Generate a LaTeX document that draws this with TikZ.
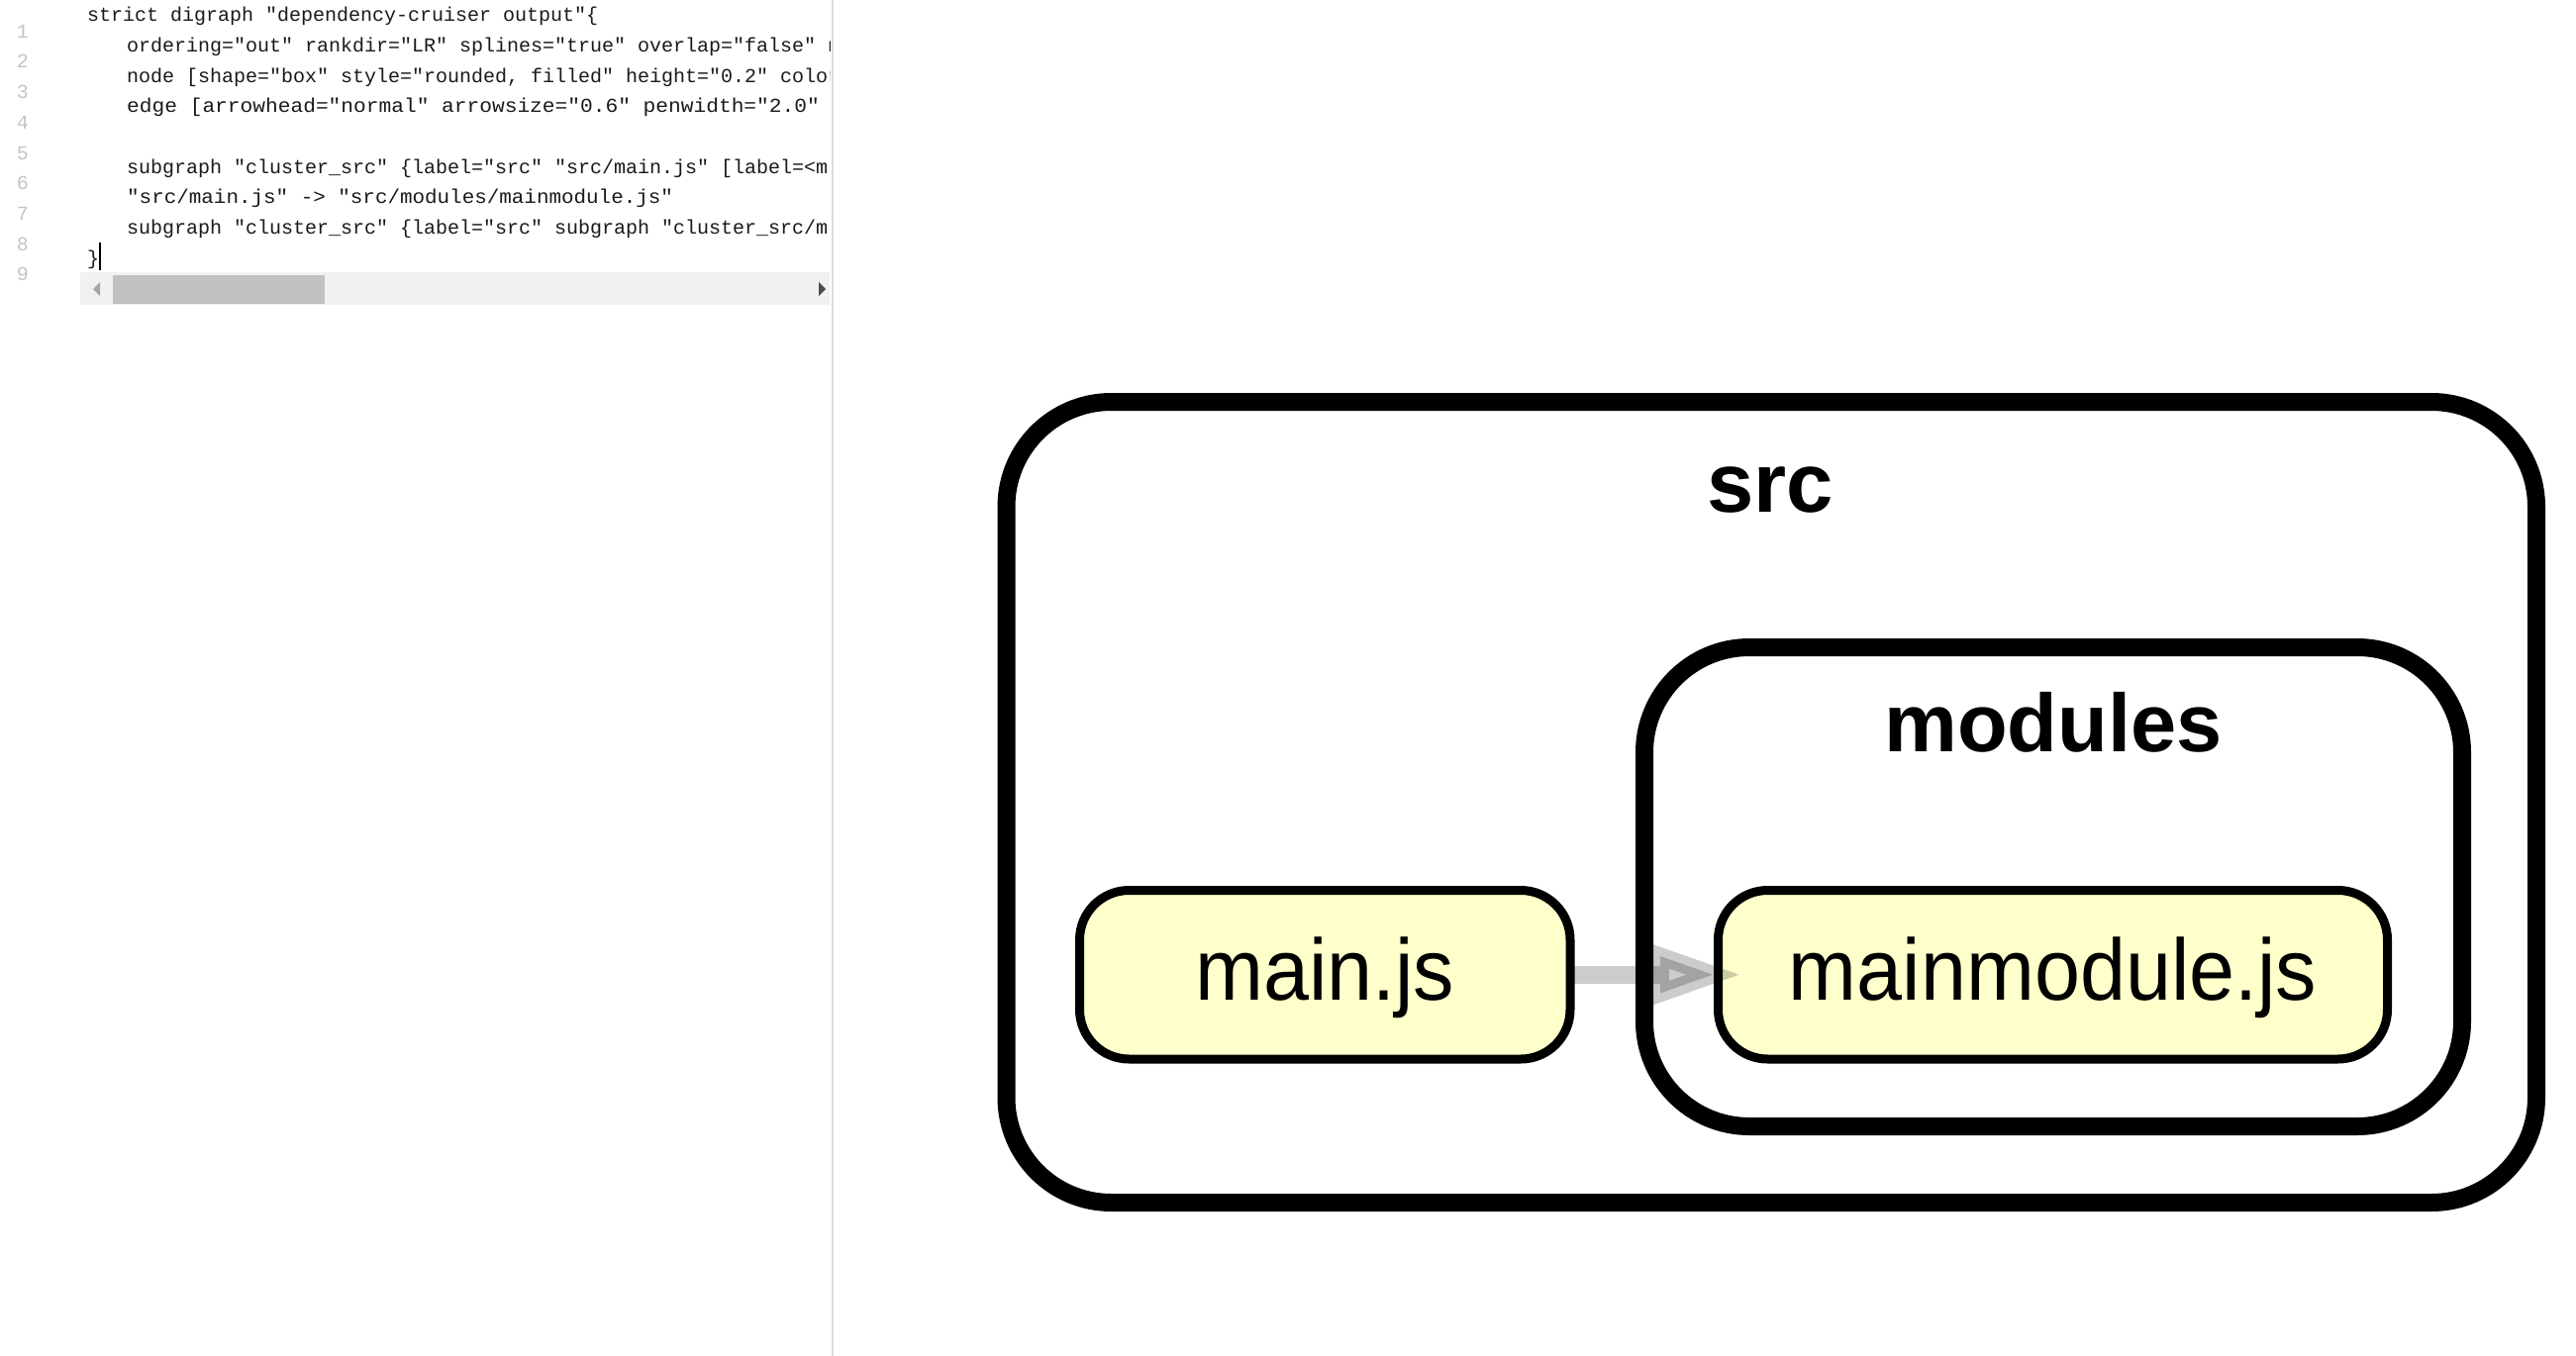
\documentclass[tikz,border=0pt]{standalone}
\usepackage{fontspec}
\setmainfont{Liberation Sans}
\newfontfamily\codefont[Ligatures=TeXOff]{Liberation Mono}
\newfontfamily\nodefont[FakeStretch=0.94]{Liberation Sans}
\definecolor{nodefill}{HTML}{FFFFCC}
\definecolor{codetext}{HTML}{1A1A1A}
\definecolor{linenum}{HTML}{C4C4C4}
\definecolor{divider}{HTML}{DDDDDD}
\definecolor{scrollbg}{HTML}{F1F1F1}
\definecolor{scrollthumb}{HTML}{C1C1C1}
\tikzset{
  cluster/.style={draw=black, line width=18pt, rounded corners=106pt, fill=white, inner sep=0pt, outer sep=0pt},
  clusterlabel/.style={anchor=base, inner sep=0pt, font=\bfseries\fontsize{85}{100}\selectfont},
  modnode/.style={draw=black, line width=9pt, fill=nodefill, rounded corners=50pt, inner sep=0pt, outer sep=0pt,
    minimum height=170.5pt, text height=62pt, text depth=11.5pt, font=\nodefont\fontsize{88}{100}\selectfont},
  edgeline/.style={draw=black, draw opacity=0.2, line width=17.7pt},
  edgehead/.style={draw=black, fill=black, draw opacity=0.2, fill opacity=0.2, line width=17.7pt, line join=miter, miter limit=10},
  codeline/.style={anchor=base west, inner sep=0pt, text=codetext, font=\codefont\fontsize{20}{24}\selectfont},
  numline/.style={anchor=base east, inner sep=0pt, text=linenum, font=\codefont\fontsize{20}{24}\selectfont}
}
\begin{document}
\begin{tikzpicture}[x=1pt, y=-1pt]
\useasboundingbox (0,0) rectangle (2602,1370);
\fill[white] (0,0) rectangle (2602,1370);

% ---------- editor panel ----------
\draw[divider, line width=2pt] (841,0) -- (841,1370);
\foreach \k in {1,...,9} {
  \node[numline] (num\k) at (29, {38.3 + 30.7*(\k-1)}) {\k};
}
\begin{scope}
\clip (0,0) rectangle (838,272);
\node[codeline] (c1) at (88, 21.7) {strict digraph "dependency-cruiser output"\{};
\node[codeline] (c2) at (128, 52.4) {ordering="out" rankdir="LR" splines="true" overlap="false" no};
\node[codeline] (c3) at (128, 83.1) {node [shape="box" style="rounded, filled" height="0.2" color};
\node[codeline] (c4) at (128, 113.8) {\scalebox{1.06}[1]{edge [arrowhead="normal" arrowsize="0.6" penwidth="2.0"}};
\node[codeline] (c6) at (128, 175.2) {subgraph "cluster\_src" \{label="src" "src/main.js" [label=<m};
\node[codeline] (c7) at (128, 205.9) {\scalebox{1.045}[1]{"src/main.js" -> "src/modules/mainmodule.js"}};
\node[codeline] (c8) at (128, 236.6) {subgraph "cluster\_src" \{label="src" subgraph "cluster\_src/m};
\node[codeline] (c9) at (88, 267.3) {\}};
\end{scope}
\draw[black, line width=1.6pt] (101,245) -- (101,273);
% scrollbar
\fill[scrollbg] (81,275) rectangle (838,308);
\fill[scrollthumb] (114,277.5) rectangle (328,306.5);
\fill[black!35] (94,292) -- (101,285) -- (101,299) -- cycle;
\fill[black!70] (834,292) -- (827,285) -- (827,299) -- cycle;

% ---------- graph ----------
\node[cluster, minimum width=1545.5pt, minimum height=809pt] (src) at (1789.25, 810.5) {};
\node[clusterlabel] (srclabel) at (1788, 517) {src};
\node[cluster, minimum width=826pt, minimum height=484pt] (modules) at (2074, 896) {};
\node[clusterlabel, font=\bfseries\fontsize{83}{100}\selectfont] (modlabel) at (2074, 759) {modules};
\node[modnode, minimum width=495.5pt] (main) at (1338.25, 984.75) {main.js};
\node[modnode, minimum width=676pt] (mainmodule) at (2073.5, 984.75) {mainmodule.js};

\coordinate (ab) at (1677, 984.75);
\draw[edgeline] (main.east) -- (ab);
\filldraw[edgehead] (ab) ++(0,-18.7) -- ++(0,37.4) -- ++(53,-18.7) -- cycle;
\end{tikzpicture}
\end{document}
